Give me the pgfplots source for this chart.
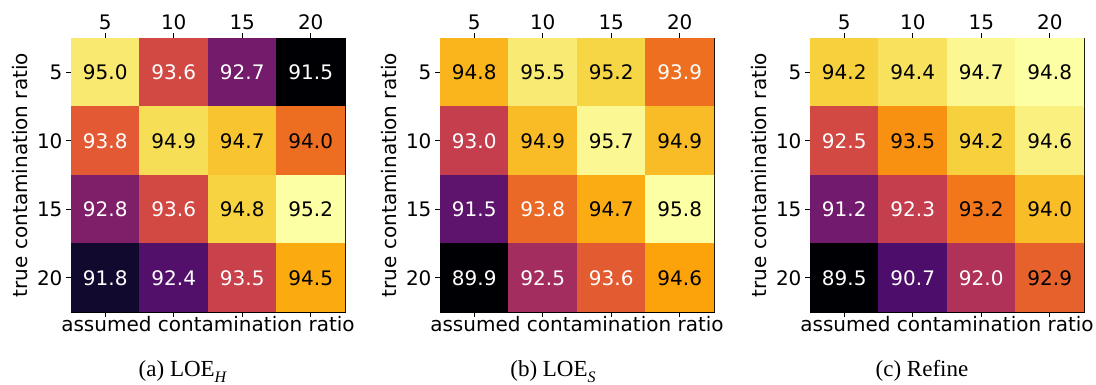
\documentclass[border=0pt]{standalone}
\usepackage{fontspec}
\setmainfont{DejaVu Sans}
\newfontfamily\capfont{Liberation Serif}
\usepackage{pgfplots}
\usepackage{pgfplotstable}
\pgfplotsset{compat=1.18}

\pgfplotsset{colormap={inferno}{rgb255=(0,0,4) rgb255=(22,11,57) rgb255=(66,10,104) rgb255=(106,23,110) rgb255=(147,38,103) rgb255=(188,55,84) rgb255=(221,81,58) rgb255=(243,120,25) rgb255=(252,165,10) rgb255=(246,215,70) rgb255=(252,255,164)}}

% x = assumed (0..3 -> 5,10,15,20), y = true (0..3 -> 5,10,15,20)
\pgfplotstableread{
x y v
0 0 95.0
1 0 93.6
2 0 92.7
3 0 91.5
0 1 93.8
1 1 94.9
2 1 94.7
3 1 94.0
0 2 92.8
1 2 93.6
2 2 94.8
3 2 95.2
0 3 91.8
1 3 92.4
2 3 93.5
3 3 94.5
}\tabA
% cells labelled in black / white
\pgfplotstableread{
x y v
0 0 95.0
1 1 94.9
2 1 94.7
3 1 94.0
2 2 94.8
3 2 95.2
3 3 94.5
}\tabAk
\pgfplotstableread{
x y v
1 0 93.6
2 0 92.7
3 0 91.5
0 1 93.8
0 2 92.8
1 2 93.6
0 3 91.8
1 3 92.4
2 3 93.5
}\tabAw

\pgfplotstableread{
x y v
0 0 94.8
1 0 95.5
2 0 95.2
3 0 93.9
0 1 93.0
1 1 94.9
2 1 95.7
3 1 94.9
0 2 91.5
1 2 93.8
2 2 94.7
3 2 95.8
0 3 89.9
1 3 92.5
2 3 93.6
3 3 94.6
}\tabB
\pgfplotstableread{
x y v
0 0 94.8
1 0 95.5
2 0 95.2
1 1 94.9
2 1 95.7
3 1 94.9
2 2 94.7
3 2 95.8
3 3 94.6
}\tabBk
\pgfplotstableread{
x y v
3 0 93.9
0 1 93.0
0 2 91.5
1 2 93.8
0 3 89.9
1 3 92.5
2 3 93.6
}\tabBw

\pgfplotstableread{
x y v
0 0 94.2
1 0 94.4
2 0 94.7
3 0 94.8
0 1 92.5
1 1 93.5
2 1 94.2
3 1 94.6
0 2 91.2
1 2 92.3
2 2 93.2
3 2 94.0
0 3 89.5
1 3 90.7
2 3 92.0
3 3 92.9
}\tabC
\pgfplotstableread{
x y v
0 0 94.2
1 0 94.4
2 0 94.7
3 0 94.8
1 1 93.5
2 1 94.2
3 1 94.6
2 2 93.2
3 2 94.0
3 3 92.9
}\tabCk
\pgfplotstableread{
x y v
0 1 92.5
0 2 91.2
1 2 92.3
0 3 89.5
1 3 90.7
2 3 92.0
}\tabCw

\pgfplotsset{
  hm/.style={
    scale only axis, width=274pt, height=274pt,
    anchor=south west,
    xmin=-0.5, xmax=3.5, ymin=-0.5, ymax=3.5, y dir=reverse,
    enlargelimits=false,
    xtick={0,1,2,3}, ytick={0,1,2,3},
    xticklabels={5,10,15,20}, yticklabels={5,10,15,20},
    xtick pos=both, xticklabel pos=upper, ytick pos=left,
    tick align=outside, major tick length=5pt,
    tick style={black, line width=0.8pt},
    axis line style={black, line width=0.8pt},
    colormap name=inferno,
    tick label style={font=\fontsize{20}{24}\selectfont},
    xlabel={assumed contamination ratio},
    ylabel={true contamination ratio},
    every axis x label/.style={at={(axis description cs:0.5,0)}, anchor=base, yshift=-20pt, font=\fontsize{20}{24}\selectfont},
    every axis y label/.style={at={(axis description cs:-0.157,0.5)}, rotate=90, anchor=base, font=\fontsize{20}{24}\selectfont},
  },
  hmcells/.style={matrix plot*, mesh/cols=4, point meta=explicit},
  hmtxt/.style={only marks, mark=*, mark size=0.01pt, mark options={draw=none, fill=none},
    point meta=explicit,
    nodes near coords={\pgfmathprintnumber[fixed, fixed zerofill, precision=1, assume math mode=true]{\pgfplotspointmeta}},
    every node near coord/.append style={anchor=center, text=#1, font=\fontsize{20}{24}\selectfont}},
}

\begin{document}
\begin{tikzpicture}
\useasboundingbox (0,0) rectangle (1096pt,385pt);

\begin{axis}[hm, at={(71pt,73pt)}]
\addplot[hmcells] table[x=x,y=y,meta=v] {\tabA};
\addplot[hmtxt=black] table[x=x,y=y,meta=v] {\tabAk};
\addplot[hmtxt=white] table[x=x,y=y,meta=v] {\tabAw};
\end{axis}

\begin{axis}[hm, at={(440pt,73pt)}]
\addplot[hmcells] table[x=x,y=y,meta=v] {\tabB};
\addplot[hmtxt=black] table[x=x,y=y,meta=v] {\tabBk};
\addplot[hmtxt=white] table[x=x,y=y,meta=v] {\tabBw};
\end{axis}

\begin{axis}[hm, at={(810pt,73pt)}]
\addplot[hmcells] table[x=x,y=y,meta=v] {\tabC};
\addplot[hmtxt=black] table[x=x,y=y,meta=v] {\tabCk};
\addplot[hmtxt=white] table[x=x,y=y,meta=v] {\tabCw};
\end{axis}

\node[anchor=base, font=\capfont\fontsize{23}{26}\selectfont] at (182.5pt,8pt) {(a) LOE\raisebox{-0.26em}{\fontsize{16}{16}\selectfont\itshape H}};
\node[anchor=base, font=\capfont\fontsize{23}{26}\selectfont] at (553pt,8pt) {(b) LOE\raisebox{-0.26em}{\fontsize{16}{16}\selectfont\itshape S}};
\node[anchor=base, font=\capfont\fontsize{23}{26}\selectfont] at (922pt,8pt) {(c) Refine};
\end{tikzpicture}
\end{document}
